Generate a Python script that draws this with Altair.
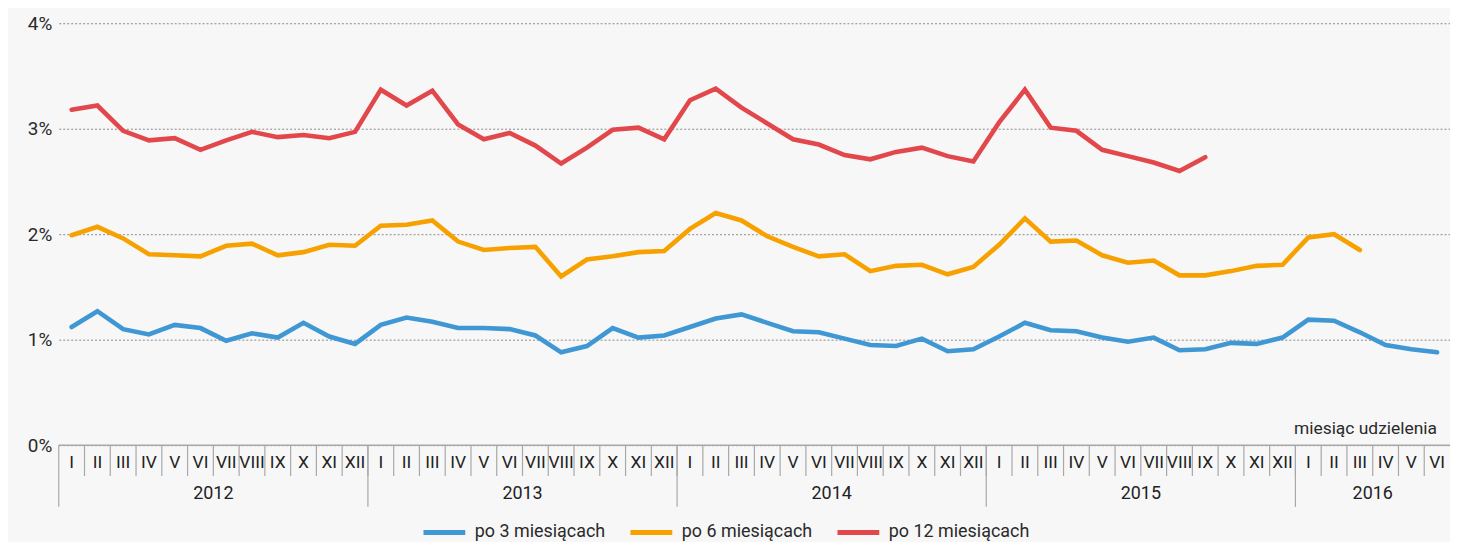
import altair as alt
import pandas as pd

months = ["I", "II", "III", "IV", "V", "VI", "VII", "VIII", "IX", "X", "XI", "XII"]
years = ["2012", "2013", "2014", "2015", "2016"]
year_months = [12, 12, 12, 12, 6]
month_labels = months * 4 + months[:6]

series_names = ["po 3 miesiącach", "po 6 miesiącach", "po 12 miesiącach"]
series_colors = ["#3f97d3", "#f7a100", "#e2474b"]

po3 = [1.12, 1.27, 1.10, 1.05, 1.14, 1.11, 0.99, 1.06, 1.02, 1.16, 1.03, 0.96,
       1.14, 1.21, 1.17, 1.11, 1.11, 1.10, 1.04, 0.88, 0.94, 1.11, 1.02, 1.04,
       1.12, 1.20, 1.24, 1.16, 1.08, 1.07, 1.01, 0.95, 0.94, 1.01, 0.89, 0.91,
       1.03, 1.16, 1.09, 1.08, 1.02, 0.98, 1.02, 0.90, 0.91, 0.97, 0.96, 1.02,
       1.19, 1.18, 1.07, 0.95, 0.91, 0.88]
po6 = [1.99, 2.07, 1.96, 1.81, 1.80, 1.79, 1.89, 1.91, 1.80, 1.83, 1.90, 1.89,
       2.08, 2.09, 2.13, 1.93, 1.85, 1.87, 1.88, 1.60, 1.76, 1.79, 1.83, 1.84,
       2.05, 2.20, 2.13, 1.98, 1.88, 1.79, 1.81, 1.65, 1.70, 1.71, 1.62, 1.69,
       1.90, 2.15, 1.93, 1.94, 1.80, 1.73, 1.75, 1.61, 1.61, 1.65, 1.70, 1.71,
       1.97, 2.00, 1.85]
po12 = [3.18, 3.22, 2.98, 2.89, 2.91, 2.80, 2.89, 2.97, 2.92, 2.94, 2.91, 2.97,
        3.37, 3.22, 3.36, 3.04, 2.90, 2.96, 2.84, 2.67, 2.82, 2.99, 3.01, 2.90,
        3.27, 3.38, 3.20, 3.05, 2.90, 2.85, 2.75, 2.71, 2.78, 2.82, 2.74, 2.69,
        3.06, 3.37, 3.01, 2.98, 2.80, 2.74, 2.68, 2.60, 2.73]
y_ticks = [0, 1, 2, 3, 4]

FONT = "Roboto"
W, H = 1398, 424
n = len(month_labels)
xdom = [-0.5, n - 0.5]

rows = []
for name, vals in zip(series_names, [po3, po6, po12]):
    for i, v in enumerate(vals):
        rows.append({"idx": i, "value": v, "series": name})
lines_df = pd.DataFrame(rows)

months_df = pd.DataFrame({"idx": list(range(n)), "label": month_labels})

year_start = []
s = 0
for k in year_months:
    year_start.append(s)
    s += k
years_df = pd.DataFrame({
    "idx": [st + (k - 1) / 2 for st, k in zip(year_start, year_months)],
    "label": years,
})
year_bounds = pd.DataFrame({"pos": [st - 0.5 for st in year_start]})
month_bounds = pd.DataFrame({"pos": [i + 0.5 for i in range(n - 1)]})

xs = alt.Scale(domain=xdom, nice=False, zero=False)
ys = alt.Scale(domain=[0, 4], nice=False)

lines = alt.Chart(lines_df).mark_line(strokeWidth=4.6, strokeCap="round", strokeJoin="miter").encode(
    x=alt.X("idx:Q", scale=xs, axis=None),
    y=alt.Y("value:Q", scale=ys, title=None,
            axis=alt.Axis(values=y_ticks, labelExpr="datum.value + '%'", grid=True,
                          gridDash=[2, 2], gridColor="#8a8a8a", gridWidth=1,
                          domain=False, ticks=False, labelFont=FONT, labelFontSize=19,
                          labelColor="#2a2a2a", labelPadding=7)),
    color=alt.Color("series:N",
                    scale=alt.Scale(domain=series_names, range=series_colors),
                    legend=alt.Legend(orient="none", legendX=364, legendY=488,
                                      direction="horizontal", title=None,
                                      symbolType="stroke", symbolSize=1764,
                                      symbolStrokeWidth=5, labelFontSize=18,
                                      labelFont=FONT, labelColor="#2a2a2a",
                                      labelOffset=7, columnPadding=14, padding=0)),
    order=alt.Order("idx:Q"),
)

baseline = alt.Chart(pd.DataFrame({"value": [0]})).mark_rule(color="#a8a8a8", strokeWidth=1.5).encode(
    y=alt.Y("value:Q", scale=ys)
)

mseps = alt.Chart(month_bounds).mark_rule(color="#a8a8a8", strokeWidth=1.2).encode(
    x=alt.X("pos:Q", scale=xs, axis=None),
    y=alt.value(H), y2=alt.value(H + 31),
)
yseps = alt.Chart(year_bounds).mark_rule(color="#a8a8a8", strokeWidth=1.2).encode(
    x=alt.X("pos:Q", scale=xs, axis=None),
    y=alt.value(H), y2=alt.value(H + 62),
)
mtext = alt.Chart(months_df).mark_text(font=FONT, fontSize=17.5, color="#222222", baseline="middle").encode(
    x=alt.X("idx:Q", scale=xs, axis=None),
    y=alt.value(H + 18),
    text="label:N",
)
ytext = alt.Chart(years_df).mark_text(font=FONT, fontSize=18, color="#222222", baseline="middle").encode(
    x=alt.X("idx:Q", scale=xs, axis=None),
    y=alt.value(H + 49),
    text="label:N",
)
xtitle = alt.Chart(pd.DataFrame({"t": ["miesiąc udzielenia"]})).mark_text(
    font=FONT, fontSize=17.5, color="#2a2a2a", align="right", baseline="middle"
).encode(x=alt.value(1385), y=alt.value(H - 16), text="t:N")

chart = alt.layer(lines, baseline, mseps, yseps, mtext, ytext, xtitle).properties(
    width=W, height=H,
    autosize=alt.AutoSizeParams(type="none"),
    padding={"left": 51, "top": 14, "right": 0, "bottom": 96},
).configure(background="#f7f7f7").configure_view(stroke=None)

chart.save("out.html", embed_options={"renderer": "svg", "actions": False})
